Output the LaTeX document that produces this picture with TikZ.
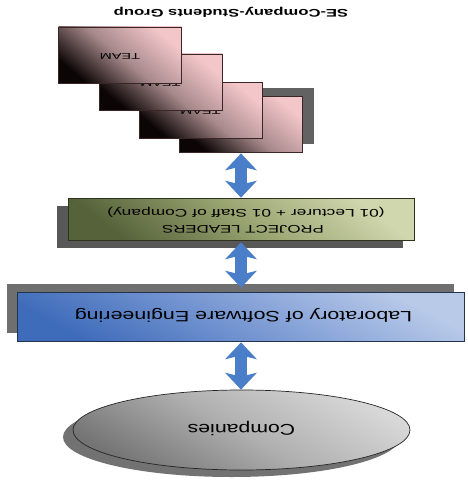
\documentclass[tikz,border=0pt]{standalone}
\usepackage{fontspec}
\setmainfont{Liberation Sans}
\newfontfamily\arialfont{Liberation Sans}
\usetikzlibrary{arrows.meta,shapes.geometric,backgrounds}

\definecolor{teamlight}{HTML}{F3C6C9}
\definecolor{teammid}{HTML}{A88A8C}
\definecolor{teamdark}{HTML}{0C0505}
\definecolor{teamline}{HTML}{3A2627}
\definecolor{leadlight}{HTML}{D0D6AD}
\definecolor{leadmid}{HTML}{98A470}
\definecolor{leaddark}{HTML}{56623A}
\definecolor{leadline}{HTML}{2E3320}
\definecolor{lablight}{HTML}{B9CAE9}
\definecolor{labmid}{HTML}{7C9BD4}
\definecolor{labdark}{HTML}{3F6CBA}
\definecolor{labline}{HTML}{22324F}
\definecolor{complight}{HTML}{D8D8D8}
\definecolor{compmid}{HTML}{B0B0B0}
\definecolor{compdark}{HTML}{747474}
\definecolor{shadowgray}{HTML}{626262}
\definecolor{arrowblue}{HTML}{4A7EC8}

\begin{document}
\begin{tikzpicture}[x=1pt,y=-1pt,
  teambox/.style={draw=teamline, line width=0.8pt, inner sep=0pt,
    minimum width=123pt, minimum height=56pt,
    top color=teamlight, bottom color=teamdark, middle color=teammid,
    shading angle=-40},
  leadbox/.style={draw=leadline, line width=0.7pt, inner sep=0pt,
    minimum width=346pt, minimum height=42pt,
    top color=leadlight, bottom color=leaddark, middle color=leadmid,
    shading angle=-38},
  labbox/.style={draw=labline, line width=0.7pt, inner sep=0pt,
    minimum width=447pt, minimum height=49pt,
    top color=lablight, bottom color=labdark, middle color=labmid,
    shading angle=-28},
  compell/.style={ellipse, draw=black!85, line width=0.7pt, inner sep=0pt,
    minimum width=337pt, minimum height=80pt,
    top color=complight, bottom color=compdark, middle color=compmid,
    shading angle=-30},
  txt/.style={rotate=180, inner sep=0pt, anchor=base},
  dblarrow/.style={draw=arrowblue, line width=12pt,
    {Stealth[length=17pt, width=32pt, inset=4pt, line width=0pt]}-{Stealth[length=17pt, width=32pt, inset=4pt, line width=0pt]}},
]
\useasboundingbox (0,0) rectangle (468,487);

% title
\node[txt, font=\arialfont\bfseries\fontsize{11}{13}\selectfont] (title) at (231,10)
  {\scalebox{1.51}[1]{SE-Company-Students Group}};

% stacked team cards, the last one drawn on top
\node[teambox] (t4) at (241,124) {};
\node[txt, font=\arialfont\fontsize{8.5}{10}\selectfont] (t4label) at (241,122.3) {\scalebox{1.7}[1]{TEAM}};
\node[teambox] (t3) at (200.5,110) {};
\node[txt, font=\arialfont\fontsize{8.5}{10}\selectfont] (t3label) at (200.5,108.3) {\scalebox{1.7}[1]{TEAM}};
\node[teambox] (t2) at (160.5,82) {};
\node[txt, font=\arialfont\fontsize{8.5}{10}\selectfont] (t2label) at (160.5,80.3) {\scalebox{1.7}[1]{TEAM}};
\node[teambox] (t1) at (120,55) {};
\node[txt, font=\arialfont\fontsize{8.5}{10}\selectfont] (t1label) at (120,53.3) {\scalebox{1.7}[1]{TEAM}};

% project leaders
\node[leadbox] (lead) at (241,219) {};
\node[txt, font=\arialfont\fontsize{11}{13}\selectfont] (leadtitle) at (243,225.7)
  {\scalebox{1.53}[1]{PROJECT LEADERS}};
\node[txt, font=\arialfont\fontsize{11}{13}\selectfont] (leadsub) at (246,209)
  {\scalebox{1.58}[1]{(01 Lecturer + 01 Staff of Company)}};

% laboratory
\node[labbox] (lab) at (240.5,316.5) {};
\node[txt, font=\arialfont\fontsize{15}{17}\selectfont] (labtext) at (243.5,311.7)
  {\scalebox{1.43}[1]{Laboratory of Software Engineering}};

% companies
\node[compell] (comp) at (241.5,430) {};
\node[txt, font=\arialfont\fontsize{15.5}{18}\selectfont] (comptext) at (241.5,424)
  {\scalebox{1.37}[1]{Companies}};

% drop shadows and page background
\begin{scope}[on background layer]
  \fill[white] (0,0) rectangle (468,487);
  \fill[shadowgray] ([xshift=11pt,yshift=8pt]t4.south west) rectangle ([xshift=11pt,yshift=8pt]t4.north east);
  \fill[shadowgray!90!black] ([xshift=-11pt,yshift=-8pt]lead.south west) rectangle ([xshift=-11pt,yshift=-8pt]lead.north east);
  \fill[shadowgray!92!white] ([xshift=-10pt,yshift=8pt]lab.south west) rectangle ([xshift=-10pt,yshift=8pt]lab.north east);
  \fill[shadowgray!90!white] ([xshift=-10pt,yshift=-7pt]comp.center) ellipse [x radius=168.5pt, y radius=40pt];
\end{scope}

% two-way links
\draw[dblarrow] ([yshift=-1pt]t4.south) -- (t4.south |- lead.north);
\draw[dblarrow] ([yshift=-2pt]lead.south -| t4.south) -- ([yshift=4pt]lab.north -| t4.south);
\draw[dblarrow] ([yshift=-1pt]lab.south -| t4.south) -- (comp.north -| t4.south);
\end{tikzpicture}
\end{document}
